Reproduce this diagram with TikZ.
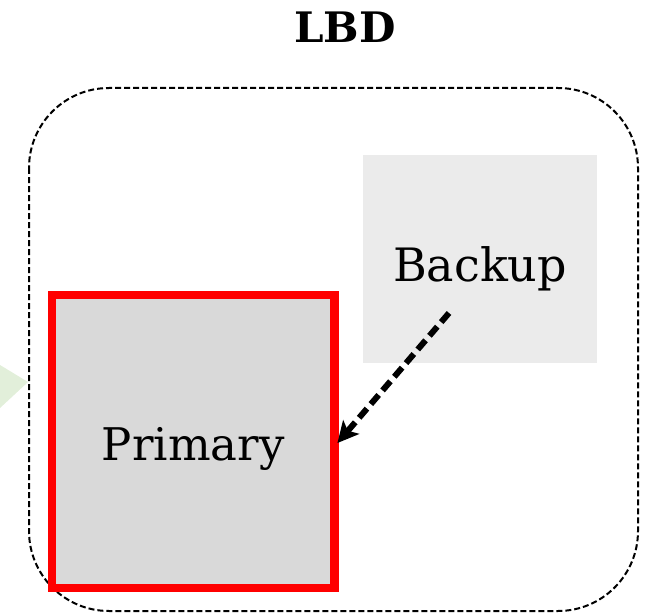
\documentclass[tikz,border=0pt]{standalone}
\usepackage{fontspec}
\setmainfont{DejaVu Serif}
\usetikzlibrary{arrows.meta}
\definecolor{primfill}{RGB}{217,217,217}
\definecolor{backfill}{RGB}{235,235,235}
\definecolor{flowgreen}{RGB}{226,239,218}
\tikzset{
  group/.style={draw=black, line width=2pt, dash pattern=on 6pt off 3pt, rounded corners=80pt},
  primarybox/.style={draw=red, fill=primfill, line width=8.5pt, minimum width=282.5pt, minimum height=293pt, inner sep=0pt, text height=37pt, text depth=0pt, font=\fontsize{45}{54}\selectfont},
  backupbox/.style={fill=backfill, minimum width=234pt, minimum height=208pt, inner sep=0pt, text height=44pt, text depth=0pt, font=\fontsize{46}{55}\selectfont},
  failover/.style={line width=6pt, dash pattern=on 12pt off 6pt, -{Stealth[length=21pt,width=21pt,inset=5pt]}, shorten >=-2pt},
  title/.style={font=\bfseries\fontsize{42}{50}\selectfont}
}
\begin{document}
\begin{tikzpicture}[x=1pt,y=-1pt]
  \useasboundingbox (0,0) rectangle (648,615);
  % incoming flow arrow, cut off at the left edge
  \fill[flowgreen] (0,365) -- (28,382) -- (0,408) -- cycle;
  % load-balanced domain
  \draw[group] (29,88) rectangle (638,611);
  \node[title] (lbd) at (345,27) {LBD};
  \node[backupbox] (backup) at (480,259) {Backup};
  \node[primarybox] (primary) at (193.25,441.5) {Primary};
  \coordinate (tail) at (449,313);
  \draw[failover] (tail) -- (primary.east);
\end{tikzpicture}
\end{document}
